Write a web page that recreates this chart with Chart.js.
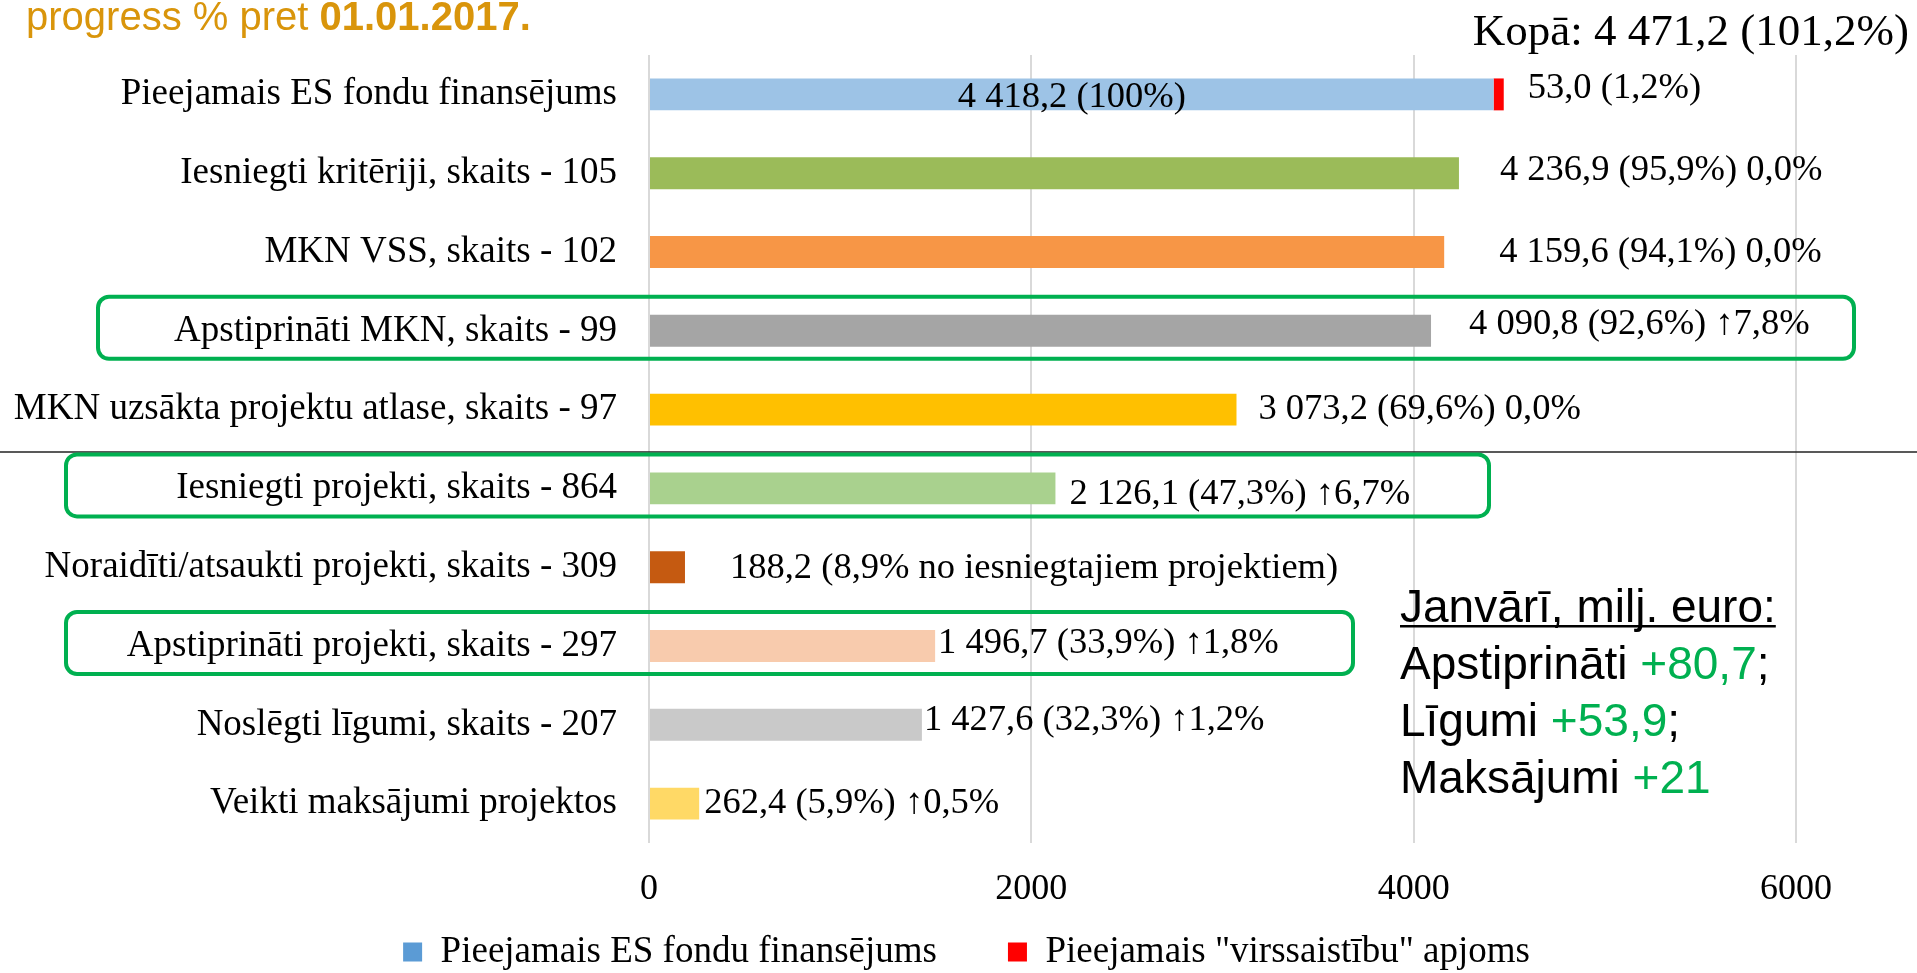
<!DOCTYPE html>
<html lang="lv">
<head>
<meta charset="utf-8">
<title>ES fondu apguves progress</title>
<script src="https://cdn.jsdelivr.net/npm/chart.js@4.4.1/dist/chart.umd.min.js"></script>
<style>
  html, body { margin: 0; padding: 0; background: #fff; overflow: hidden; }
  #wrap { position: relative; width: 1917px; height: 973px; }
</style>
</head>
<body>
<div id="wrap"><canvas id="progressChart" width="1917" height="973"></canvas></div>
<script>
// --- data (milj. euro) ---
const categories = [
    'Pieejamais ES fondu finansējums',
    'Iesniegti kritēriji, skaits - 105',
    'MKN VSS, skaits - 102',
    'Apstiprināti MKN, skaits - 99',
    'MKN uzsākta projektu atlase, skaits - 97',
    'Iesniegti projekti, skaits - 864',
    'Noraidīti/atsaukti projekti, skaits - 309',
    'Apstiprināti projekti, skaits - 297',
    'Noslēgti līgumi, skaits - 207',
    'Veikti maksājumi projektos'
];
const esFunding = [4418.2, 4236.9, 4159.6, 4090.8, 3073.2, 2126.1, 188.2, 1496.7, 1427.6, 262.4];
const overCommitment = [53.0, 0, 0, 0, 0, 0, 0, 0, 0, 0];
const sharePct = [100, 95.9, 94.1, 92.6, 69.6, 47.3, 8.9, 33.9, 32.3, 5.9];
const shareNote = ['', '', '', '', '', '', ' no iesniegtajiem projektiem', '', '', ''];
const monthChange = ['', '0,0%', '0,0%', '↑7,8%', '0,0%', '↑6,7%', '', '↑1,8%', '↑1,2%', '↑0,5%'];
const seriesNames = ['Pieejamais ES fondu finansējums', 'Pieejamais "virssaistību" apjoms'];
const xTicks = [0, 2000, 4000, 6000];
const januaryItems = ['Apstiprināti', 'Līgumi', 'Maksājumi'];
const januaryGrowth = ['+80,7', '+53,9', '+21'];
const januaryTail = [';', ';', ''];

// --- styling / layout ---
const barColors = ['#9dc3e6', '#9bbb59', '#f79646', '#a5a5a5', '#ffc000',
                   '#a9d18e', '#c55a11', '#f8cbad', '#c9c9c9', '#ffd966'];
const legendColors = ['#5b9bd5', '#ff0000'];
const labelDx = [24, 41, 55, 38, 22, 14, 45, 3, 2, 5];
const labelDy = [-6, -3, 0, -6, 0, 6, 1, -3, -4, 0];
const highlightRows = [3, 5, 7];
const highlightX = [[98, 1854], [66, 1489], [66, 1353]];
const SERIF = '"Liberation Serif", "Times New Roman", serif';
const SANS = '"Liberation Sans", Arial, sans-serif';
const GREEN = '#00b050';
const LEGEND_LEFT = 137;
const LEGEND_TEXT_Y = 952;

function fmt(v) {
    const [int, dec] = v.toFixed(1).split('.');
    return int.replace(/\B(?=(\d{3})+(?!\d))/g, ' ') + ',' + dec;
}

// legend sits over the tick-label strip in the original, so move it after layout
const legendPlacement = {
    id: 'legendPlacement',
    afterLayout(chart) {
        const lg = chart.legend;
        if (!lg) return;
        const lo = lg.options.labels;
        const h = lg.height;
        lg.left = LEGEND_LEFT;
        lg.top = LEGEND_TEXT_Y - lo.padding - lo.font.size / 2;
        lg.bottom = lg.top + h;
    }
};

const overlay = {
    id: 'overlay',
    afterDraw(chart) {
        const ctx = chart.ctx;
        const y = chart.scales.y;
        const m0 = chart.getDatasetMeta(0).data;
        const m1 = chart.getDatasetMeta(1).data;
        ctx.save();

        // title fragment at top left
        ctx.textBaseline = 'alphabetic';
        ctx.textAlign = 'left';
        ctx.fillStyle = '#d9950b';
        ctx.font = '40px ' + SANS;
        const pre = 'progress % pret ';
        ctx.fillText(pre, 26, 30);
        const preW = ctx.measureText(pre).width;
        ctx.font = 'bold 40px ' + SANS;
        ctx.fillText('01.01.2017.', 26 + preW, 30);

        // separator line between planning and project stages
        const sepY = (y.getPixelForValue(4) + y.getPixelForValue(5)) / 2 + 3;
        ctx.strokeStyle = '#222';
        ctx.lineWidth = 1.5;
        ctx.beginPath();
        ctx.moveTo(0, sepY);
        ctx.lineTo(chart.width, sepY);
        ctx.stroke();

        // green highlight frames
        ctx.strokeStyle = GREEN;
        ctx.lineWidth = 4;
        highlightRows.forEach((row, k) => {
            const c = y.getPixelForValue(row);
            const [x0, x1] = highlightX[k];
            ctx.beginPath();
            ctx.roundRect(x0, c - 34, x1 - x0, 62, 11);
            ctx.stroke();
        });

        // value labels
        ctx.fillStyle = '#000';
        ctx.font = '36.5px ' + SERIF;
        ctx.textBaseline = 'middle';
        categories.forEach((_, i) => {
            const bar = m0[i];
            const c = bar.y + labelDy[i];
            if (i === 0) {
                ctx.textAlign = 'center';
                ctx.fillText(fmt(esFunding[0]) + ' (' + fmt(sharePct[0]).replace(',0', '') + '%)',
                    (bar.base + bar.x) / 2, bar.y + 3);
                ctx.textAlign = 'left';
                const extra = overCommitment[0];
                ctx.fillText(fmt(extra) + ' (' + fmt(extra / esFunding[0] * 100) + '%)',
                    m1[0].x + labelDx[0], c);
                return;
            }
            const end = Math.max(bar.x, m1[i].x);
            let txt = fmt(esFunding[i]) + ' (' + fmt(sharePct[i]) + '%' + shareNote[i] + ')';
            if (monthChange[i]) txt += ' ' + monthChange[i];
            ctx.textAlign = 'left';
            ctx.fillText(txt, end + labelDx[i], c);
        });

        // total above first row
        const total = esFunding[0] + overCommitment[0];
        ctx.font = '45px ' + SERIF;
        ctx.textAlign = 'right';
        ctx.textBaseline = 'alphabetic';
        ctx.fillText('Kopā: ' + fmt(total) + ' (' + fmt(total / esFunding[0] * 100) + '%)', 1909, 45);

        // January summary box
        ctx.textAlign = 'left';
        ctx.font = '46px ' + SANS;
        const head = 'Janvārī, milj. euro:';
        ctx.fillStyle = '#000';
        ctx.fillText(head, 1400, 622);
        const hw = ctx.measureText(head).width;
        ctx.fillRect(1400, 625, hw, 2.5);
        januaryItems.forEach((name, k) => {
            const by = 679 + k * 57;
            let x = 1400;
            ctx.fillStyle = '#000';
            ctx.fillText(name + ' ', x, by);
            x += ctx.measureText(name + ' ').width;
            ctx.fillStyle = GREEN;
            ctx.fillText(januaryGrowth[k], x, by);
            x += ctx.measureText(januaryGrowth[k]).width;
            ctx.fillStyle = '#000';
            ctx.fillText(januaryTail[k], x, by);
        });

        ctx.restore();
    }
};

new Chart(document.getElementById('progressChart'), {
    type: 'bar',
    data: {
        labels: categories,
        datasets: [
            { label: seriesNames[0], data: esFunding, backgroundColor: barColors,
              categoryPercentage: 1, barPercentage: 0.405 },
            { label: seriesNames[1], data: overCommitment, backgroundColor: '#ff0000',
              categoryPercentage: 1, barPercentage: 0.405 }
        ]
    },
    options: {
        indexAxis: 'y',
        responsive: false,
        animation: false,
        // bottom padding pushes the tall legend box out so the axis strip keeps 842..923
        layout: { padding: { left: 0, right: 121, top: 55, bottom: -69 } },
        plugins: {
            tooltip: { enabled: false },
            legend: {
                position: 'bottom',
                labels: {
                    boxWidth: 19,
                    boxHeight: 19,
                    padding: 71,
                    color: '#000',
                    font: { family: SERIF, size: 37 },
                    generateLabels: chart => chart.data.datasets.map((ds, i) => ({
                        text: ds.label,
                        fillStyle: legendColors[i],
                        strokeStyle: legendColors[i],
                        lineWidth: 0,
                        datasetIndex: i
                    }))
                }
            }
        },
        scales: {
            x: {
                stacked: true,
                min: 0,
                max: 6000,
                afterBuildTicks: s => { s.ticks = xTicks.map(v => ({ value: v })); },
                afterFit: s => { s.height = 81; },
                grid: { color: '#d9d9d9', lineWidth: 2, drawTicks: false },
                border: { display: false },
                ticks: {
                    color: '#000',
                    padding: 25,
                    font: { family: SERIF, size: 36 },
                    callback: v => String(v)
                }
            },
            y: {
                stacked: true,
                afterFit: s => { s.width = 649; },
                grid: { display: false, drawTicks: false },
                border: { display: false },
                ticks: { color: '#000', padding: 32, font: { family: SERIF, size: 37 } }
            }
        }
    },
    plugins: [legendPlacement, overlay]
});
</script>
</body>
</html>
